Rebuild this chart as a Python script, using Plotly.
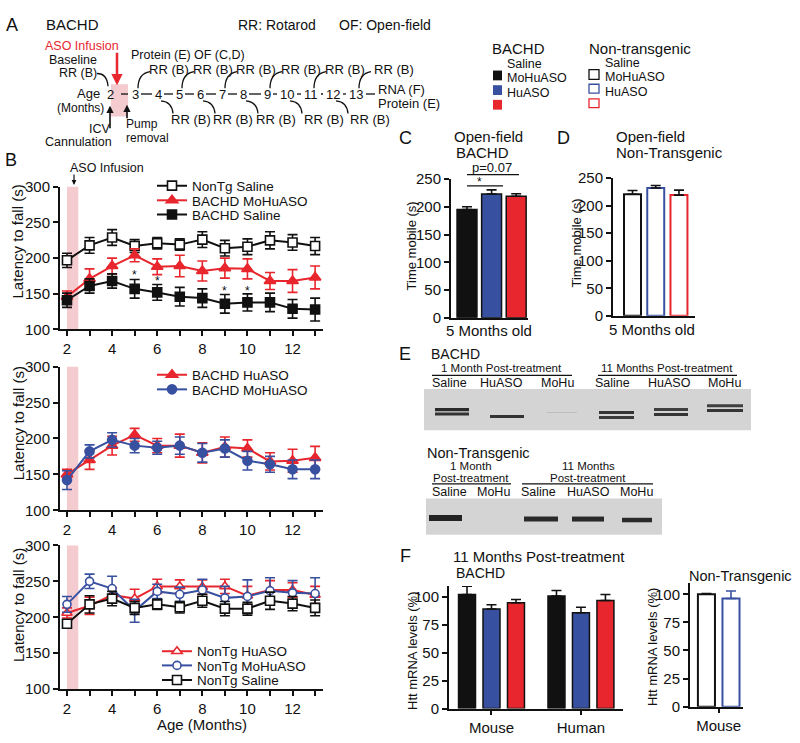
import plotly.graph_objects as go

W, H = 800, 743
def X(px): return px / W
def Y(py): return 1 - py / H

FONT = "Liberation Sans, Arial, Helvetica, sans-serif"
BLACK = "#111111"
RED = "#e8262d"
BLUE = "#3850a0"
PINKFILL = "#f4cbcf"

# ---------------- data ----------------
months = [2, 3, 4, 5, 6, 7, 8, 9, 10, 11, 12, 13]
month_ticktext = ["2", "", "4", "", "6", "", "8", "", "10", "", "12", ""]

# Panel B (top)
top_nontg_saline = [197, 218, 229, 217, 221, 219, 226, 214, 216, 225, 222, 217]
top_nontg_saline_err = [10, 11, 11, 9, 8, 8, 11, 11, 11, 12, 11, 12]
top_bachd_mohuaso = [146, 171, 189, 204, 188, 189, 182, 186, 185, 168, 168, 173]
top_bachd_mohuaso_err = [8, 14, 11, 9, 11, 15, 14, 14, 14, 12, 16, 16]
top_bachd_saline = [141, 161, 168, 157, 152, 146, 144, 136, 138, 138, 129, 128]
top_bachd_saline_err = [10, 10, 10, 13, 11, 13, 13, 13, 12, 13, 13, 16]
star_months = [5, 6, 9, 10]
star_levels = [176, 168, 154, 154]

# Panel B (middle)
mid_bachd_huaso = [150, 170, 190, 205, 190, 190, 180, 188, 186, 168, 169, 173]
mid_bachd_huaso_err = [7, 13, 13, 9, 10, 16, 14, 14, 12, 12, 16, 16]
mid_bachd_mohuaso = [142, 182, 198, 190, 187, 190, 180, 186, 169, 164, 157, 157]
mid_bachd_mohuaso_err = [13, 9, 10, 10, 9, 12, 13, 12, 13, 11, 13, 13]

# Panel B (bottom)
bot_nontg_huaso = [206, 216, 231, 226, 243, 243, 242, 243, 230, 238, 238, 231]
bot_nontg_huaso_err = [7, 12, 10, 13, 10, 9, 10, 10, 13, 13, 10, 12]
bot_nontg_mohuaso = [218, 250, 240, 209, 236, 232, 238, 227, 229, 237, 234, 233]
bot_nontg_mohuaso_err = [11, 10, 17, 16, 10, 10, 15, 16, 23, 18, 17, 22]
bot_nontg_saline = [191, 218, 226, 213, 218, 214, 223, 212, 212, 223, 219, 213]
bot_nontg_saline_err = [5, 12, 10, 9, 7, 8, 9, 10, 9, 12, 10, 11]

# Panels C / D (open field, 5 months)
conditions = ["Saline", "MoHuASO", "HuASO"]
of_bachd = [195, 223, 219]
of_bachd_err = [5, 7.5, 4.5]
of_nontg = [220.5, 232, 219]
of_nontg_err = [7, 4.5, 9]

# Panel F (Htt mRNA, 11 months post-treatment)
species = ["Mouse", "Human"]
mrna_bachd_mouse = [102.5, 89.5, 95]
mrna_bachd_mouse_err = [7.5, 3.8, 3]
mrna_bachd_human = [101, 86, 97]
mrna_bachd_human_err = [5, 5, 5.5]
nontg_conditions = ["Saline", "MoHuASO"]
mrna_nontg_mouse = [100, 96.2]
mrna_nontg_mouse_err = [0.6, 6.7]

cond_colors = [BLACK, BLUE, RED]

fig = go.Figure()

def line_trace(y, err, name, color, symbol, size, xa, ya, legend, filled=True):
    return go.Scatter(
        x=months, y=y, name=name, mode="lines+markers",
        line=dict(color=color, width=2),
        marker=dict(symbol=symbol, size=size, color=color if filled else "white",
                    line=dict(color=color, width=1.6)),
        error_y=dict(type="data", array=err, color=color, thickness=1.6, width=5),
        xaxis=xa, yaxis=ya, legend=legend, cliponaxis=False)

# top
fig.add_trace(line_trace(top_nontg_saline, top_nontg_saline_err, "NonTg Saline", BLACK, "square", 9, "x", "y", "legend", filled=False))
fig.add_trace(line_trace(top_bachd_mohuaso, top_bachd_mohuaso_err, "BACHD MoHuASO", RED, "triangle-up", 10, "x", "y", "legend2"))
fig.add_trace(line_trace(top_bachd_saline, top_bachd_saline_err, "BACHD Saline", BLACK, "square", 9, "x", "y", "legend3"))
# middle
fig.add_trace(line_trace(mid_bachd_huaso, mid_bachd_huaso_err, "BACHD HuASO", RED, "triangle-up", 10, "x2", "y2", "legend4"))
fig.add_trace(line_trace(mid_bachd_mohuaso, mid_bachd_mohuaso_err, "BACHD MoHuASO", BLUE, "circle", 9, "x2", "y2", "legend5"))
# bottom
fig.add_trace(line_trace(bot_nontg_huaso, bot_nontg_huaso_err, "NonTg HuASO", RED, "triangle-up", 9, "x3", "y3", "legend6", filled=False))
fig.add_trace(line_trace(bot_nontg_mohuaso, bot_nontg_mohuaso_err, "NonTg MoHuASO", BLUE, "circle", 8, "x3", "y3", "legend7", filled=False))
fig.add_trace(line_trace(bot_nontg_saline, bot_nontg_saline_err, "NonTg Saline", BLACK, "square", 9, "x3", "y3", "legend8", filled=False))

# C
fig.add_trace(go.Bar(x=conditions, y=of_bachd, width=0.81,
                     marker=dict(color=cond_colors, line=dict(color=BLACK, width=1.5)),
                     error_y=dict(type="data", symmetric=False, array=of_bachd_err, arrayminus=[0, 0, 0],
                                  color=BLACK, thickness=1.6, width=5),
                     xaxis="x4", yaxis="y4", showlegend=False, cliponaxis=False))
# D
fig.add_trace(go.Bar(x=conditions, y=of_nontg, width=0.73,
                     marker=dict(color="white", line=dict(color=cond_colors, width=2)),
                     error_y=dict(type="data", symmetric=False, array=of_nontg_err, arrayminus=[0, 0, 0],
                                  color=BLACK, thickness=1.6, width=5),
                     xaxis="x5", yaxis="y5", showlegend=False, cliponaxis=False))
# F left
for k in range(3):
    fig.add_trace(go.Bar(x=species, y=[mrna_bachd_mouse[k], mrna_bachd_human[k]], name=conditions[k],
                         marker=dict(color=cond_colors[k], line=dict(color=BLACK, width=1.5)),
                         error_y=dict(type="data", symmetric=False,
                                      array=[mrna_bachd_mouse_err[k], mrna_bachd_human_err[k]],
                                      arrayminus=[0, 0], color=BLACK, thickness=1.6, width=5),
                         xaxis="x6", yaxis="y6", showlegend=False, cliponaxis=False))
# F right
for k in range(2):
    fig.add_trace(go.Bar(x=["Mouse"], y=[mrna_nontg_mouse[k]], name=nontg_conditions[k],
                         marker=dict(color="white", line=dict(color=cond_colors[k], width=2)),
                         error_y=dict(type="data", symmetric=False, array=[mrna_nontg_mouse_err[k]],
                                      arrayminus=[0], color=cond_colors[k], thickness=1.6, width=5),
                         xaxis="x7", yaxis="y7", showlegend=False, cliponaxis=False))

# ---------------- axes ----------------
def ax_style(**kw):
    d = dict(showline=True, linecolor=BLACK, linewidth=2, ticks="outside", ticklen=5,
             tickwidth=1.6, tickcolor=BLACK, showgrid=False, zeroline=False,
             tickfont=dict(size=15, color=BLACK, family=FONT), fixedrange=True)
    d.update(kw)
    return d

bx = [X(60), X(323)]
layout_axes = {}
for i, (ytop, ybot) in enumerate([(182, 328), (366, 513), (549, 696)]):
    sfx = "" if i == 0 else str(i + 1)
    layout_axes["xaxis" + sfx] = ax_style(domain=bx, range=[1.69, 13.35], tickvals=months,
                                         ticktext=month_ticktext, anchor="y" + sfx)
    layout_axes["yaxis" + sfx] = ax_style(domain=[Y(ybot), Y(ytop)], range=[100, 300],
                                         tickvals=[100, 150, 200, 250, 300], anchor="x" + sfx)

layout_axes["xaxis4"] = ax_style(domain=[X(451), X(528)], range=[-0.65, 2.48], ticks="",
                                 showticklabels=False, anchor="y4")
layout_axes["yaxis4"] = ax_style(domain=[Y(316), Y(174)], range=[0, 250],
                                 tickvals=[0, 50, 100, 150, 200, 250], anchor="x4")
layout_axes["xaxis5"] = ax_style(domain=[X(613), X(695)], range=[-0.84, 2.69], ticks="",
                                 showticklabels=False, anchor="y5")
layout_axes["yaxis5"] = ax_style(domain=[Y(314), Y(173)], range=[0, 250],
                                 tickvals=[0, 50, 100, 150, 200, 250], anchor="x5")
layout_axes["xaxis6"] = ax_style(domain=[X(449), X(623)], range=[-0.475, 1.47], ticklen=4, anchor="y6")
layout_axes["yaxis6"] = ax_style(domain=[Y(716), Y(590.6)], range=[0, 110],
                                 tickvals=[0, 25, 50, 75, 100], anchor="x6")
layout_axes["xaxis7"] = ax_style(domain=[X(690), X(743)], range=[-0.48, 0.406], ticklen=4, anchor="y7")
layout_axes["yaxis7"] = ax_style(domain=[Y(714), Y(587.5)], range=[0, 110],
                                 tickvals=[0, 25, 50, 75, 100], anchor="x7")

# ---------------- annotations & shapes ----------------
anns = []
shapes = []

def ann(text, x, y, size=13, color=BLACK, xanchor="center", angle=0):
    anns.append(dict(text=text, x=X(x), y=Y(y), xref="paper", yref="paper", showarrow=False,
                     xanchor=xanchor, yanchor="middle", textangle=angle, borderpad=0,
                     font=dict(size=size, color=color, family=FONT)))

def arrow(x, y, ay, color=BLACK, width=1.5, size=1.0):
    anns.append(dict(text="", x=X(x), y=Y(y), xref="paper", yref="paper", showarrow=True,
                     ax=0, ay=ay, arrowhead=2, arrowsize=size, arrowwidth=width, arrowcolor=color))

def line(x0, y0, x1, y1, width=1.3, color=BLACK):
    shapes.append(dict(type="line", xref="paper", yref="paper", x0=X(x0), y0=Y(y0), x1=X(x1), y1=Y(y1),
                       line=dict(color=color, width=width)))

def rect(x0, y0, x1, y1, fill, lc=None, lw=0, layer="above"):
    shapes.append(dict(type="rect", xref="paper", yref="paper", x0=X(x0), y0=Y(y0), x1=X(x1), y1=Y(y1),
                       fillcolor=fill, line=dict(color=lc or fill, width=lw), layer=layer))

def curve(p0, c, p1, width=1.3):
    path = "M %.5f %.5f Q %.5f %.5f %.5f %.5f" % (X(p0[0]), Y(p0[1]), X(c[0]), Y(c[1]), X(p1[0]), Y(p1[1]))
    shapes.append(dict(type="path", xref="paper", yref="paper", path=path,
                       line=dict(color=BLACK, width=width)))

# Panel A
ann("A", 12, 16, 18)
ann("BACHD", 45, 16, 15, xanchor="left")
ann("RR: Rotarod", 237, 16, 14, xanchor="left")
ann("OF: Open-field", 338, 16, 14, xanchor="left")
ann("ASO Infusion", 82, 38, 12.5, RED)
arrow(117, 78, -34, RED, 2.5, 0.9)
ann("Baseline", 73, 52, 12.5)
ann("RR (B)", 78, 65, 12.5)
curve((97, 66), (107, 66), (108, 79))
rect(111, 77, 128, 110, PINKFILL, layer="below")
ann("Age", 101, 86.5, 13, xanchor="right")
ann("(Months)", 80, 101.5, 12)
tl_centers = [110, 135, 158, 179, 200, 222, 243, 267, 287, 311, 333, 356]
for m, c in zip(months, tl_centers):
    ann(str(m), c, 87, 13)
hw = [4 if m < 10 else 8 for m in months]
line(121, 87, 128, 87)
for i in range(1, len(months) - 1):
    line(tl_centers[i] + hw[i] + 2, 87, tl_centers[i + 1] - hw[i + 1] - 2, 87)
line(366, 87, 375, 87)
for i, m in enumerate(months):
    c = tl_centers[i]
    if m >= 3 and m % 2 == 1:
        curve((c + 3, 81), (c + 3, 66), (c + 15, 64))
        if m == 13:
            ann("RR (B)", 373, 62, 13, xanchor="left")
        else:
            ann("RR (B)", c + 34, 62, 13)
    elif m >= 4 and m % 2 == 0:
        curve((c + 3, 94), (c + 14, 95), (c + 15, 107))
        ann("RR (B)", c + (33 if m < 10 else 37), 113, 13)
ann("Protein (E)", 161, 47.5, 12.5)
ann("OF (C,D)", 219, 47.5, 12.5)
ann("RNA (F)", 377, 82, 13, xanchor="left")
ann("Protein (E)", 377, 97, 13, xanchor="left")
arrow(110, 99, 24, BLACK, 1.6, 0.9)
ann("ICV", 100, 122.5, 12.5)
ann("Cannulation", 78, 136, 12.5)
arrow(127, 98, 15, BLACK, 1.6, 0.9)
ann("Pump", 125, 118, 12, xanchor="left")
ann("removal", 125, 132.5, 12, xanchor="left")

# A legend block
ann("BACHD", 491, 40, 15, xanchor="left")
ann("Saline", 506, 56.5, 12.5, xanchor="left")
ann("MoHuASO", 506, 70.5, 12.5, xanchor="left")
ann("HuASO", 506, 86, 12.5, xanchor="left")
rect(493, 63, 502, 73, BLACK)
rect(493, 78, 502, 88, BLUE)
rect(493, 93, 502, 103, RED)
ann("Non-transgenic", 588, 40, 15, xanchor="left")
ann("Saline", 604, 55, 12.5, xanchor="left")
ann("MoHuASO", 604, 70, 12.5, xanchor="left")
ann("HuASO", 604, 85, 12.5, xanchor="left")
rect(589, 62, 599, 72, "white", BLACK, 1.3)
rect(589, 77, 599, 86, "white", BLUE, 1.3)
rect(589, 92, 599, 101, "white", RED, 1.3)

# Panel B
ann("B", 11, 155, 18)
ann("ASO Infusion", 107, 163, 12.5)
arrow(74, 180, -12, BLACK, 1.2, 0.8)
for sfx, yc in [("", 238), ("2", 424), ("3", 610)]:
    ann("Latency to fall (s)", 18, yc, 15, angle=-90)
    shapes.append(dict(type="rect", xref="x" + sfx, yref="y" + sfx + " domain", x0=2, x1=2.5, y0=0, y1=1,
                       fillcolor=PINKFILL, line=dict(width=0), layer="below"))
for m, lv in zip(star_months, star_levels):
    anns.append(dict(text="*", x=m, y=lv, xref="x", yref="y", showarrow=False,
                     font=dict(size=12, color=BLACK, family=FONT)))
ann("Age (Months)", 202, 732.5, 15)

# Panel C
ann("C", 405, 132, 18)
ann("Open-field", 453, 130, 15, xanchor="left")
ann("BACHD", 455, 147, 15, xanchor="left")
ann("p=0.07", 492, 162, 13)
line(467, 169.5, 519, 169.5, 1.2)
line(467, 181, 503, 181, 1.2)
ann("*", 479, 177, 12)
ann("Time mobile (s)", 411, 243, 13, angle=-90)
ann("5 Months old", 489.5, 329, 15)

# Panel D
ann("D", 563, 132, 18)
ann("Open-field", 615, 130, 15, xanchor="left")
ann("Non-Transgenic", 615, 147, 15, xanchor="left")
ann("Time mobile (s)", 577, 240, 13, angle=-90)
ann("5 Months old", 651.5, 328, 15)

# Panel E (western blots)
ann("E", 405, 353, 18)
ann("BACHD", 430, 353, 14, xanchor="left")
ann("1 Month Post-treatment", 502, 367, 11.5)
line(432, 375, 572, 375, 1.2)
ann("11 Months Post-treatment", 667, 367, 11.5)
line(598, 375, 737, 375, 1.2)
for lbl, cx in zip(["Saline", "HuASO", "MoHu", "Saline", "HuASO", "MoHu"], [449, 502, 557, 612, 669, 724]):
    ann(lbl, cx, 383, 12.5)
rect(424, 389, 751, 431, "#d4d4d4")
bands1 = [(435, 469, 410, 3.2, "#2a2a2a"), (435, 469, 414.5, 3, "#333333"),
          (490, 524, 417, 3, "#333333"), (547, 577, 413, 1, "#bdbdbd"),
          (599, 634, 413, 3, "#353535"), (599, 634, 418, 3, "#3a3a3a"),
          (654, 688, 410, 3, "#3f3f3f"), (654, 688, 415, 3, "#353535"),
          (707, 743, 406, 3, "#3f3f3f"), (707, 743, 411, 3, "#353535")]
for x0, x1, yb, w, col in bands1:
    line(x0, yb, x1, yb, w, col)
ann("Non-Transgenic", 426, 454, 14.5, xanchor="left")
ann("1 Month", 471, 468, 11.5)
ann("Post-treatment", 471, 479.5, 11.5)
line(432, 486, 511, 486, 1.2)
ann("11 Months", 588, 468, 11.5)
ann("Post-treatment", 588, 479.5, 11.5)
line(522, 486, 653, 486, 1.2)
for lbl, cx in zip(["Saline", "MoHu", "Saline", "HuASO", "MoHu"], [449, 493, 538, 588, 636]):
    ann(lbl, cx, 494, 12.5)
rect(426, 501, 662, 538, "#d4d4d4")
bands2 = [(429, 462, 521, 6, "#222222"), (524, 558, 522, 5, "#2a2a2a"),
          (572, 604, 522, 5, "#2a2a2a"), (622, 652, 523, 4.5, "#2a2a2a")]
for x0, x1, yb, w, col in bands2:
    line(x0, yb, x1, yb, w, col)

# Panel F
ann("F", 406, 560, 18)
ann("11 Months Post-treatment", 452, 560, 15, xanchor="left")
ann("BACHD", 455, 577, 14, xanchor="left")
ann("Non-Transgenic", 688, 580, 14.5, xanchor="left")
ann("Htt mRNA levels (%)", 413, 657, 13, angle=-90)
ann("Htt mRNA levels (%)", 652, 653, 13, angle=-90)

legend_common = dict(xanchor="left", yanchor="middle", bgcolor="rgba(0,0,0,0)",
                     font=dict(size=13.5, color=BLACK, family=FONT), tracegroupgap=0, itemwidth=30)
legend_spots = {
    "legend": (152, 181), "legend2": (152, 196), "legend3": (152, 210.5),
    "legend4": (152, 374.5), "legend5": (152, 389.5),
    "legend6": (157, 657.5), "legend7": (157, 672), "legend8": (157, 687),
}
legends = {k: dict(x=X(px), y=Y(py), **legend_common) for k, (px, py) in legend_spots.items()}

fig.update_layout(
    width=W, height=H, margin=dict(l=0, r=0, t=0, b=0),
    paper_bgcolor="white", plot_bgcolor="rgba(0,0,0,0)",
    font=dict(family=FONT, color=BLACK),
    barmode="group", bargap=0.179, bargroupgap=0.306,
    annotations=anns, shapes=shapes,
    **legends,
    **layout_axes,
)

fig.write_html("out.html", config={"displayModeBar": False},
               post_script="document.body.style.margin='0px';")
